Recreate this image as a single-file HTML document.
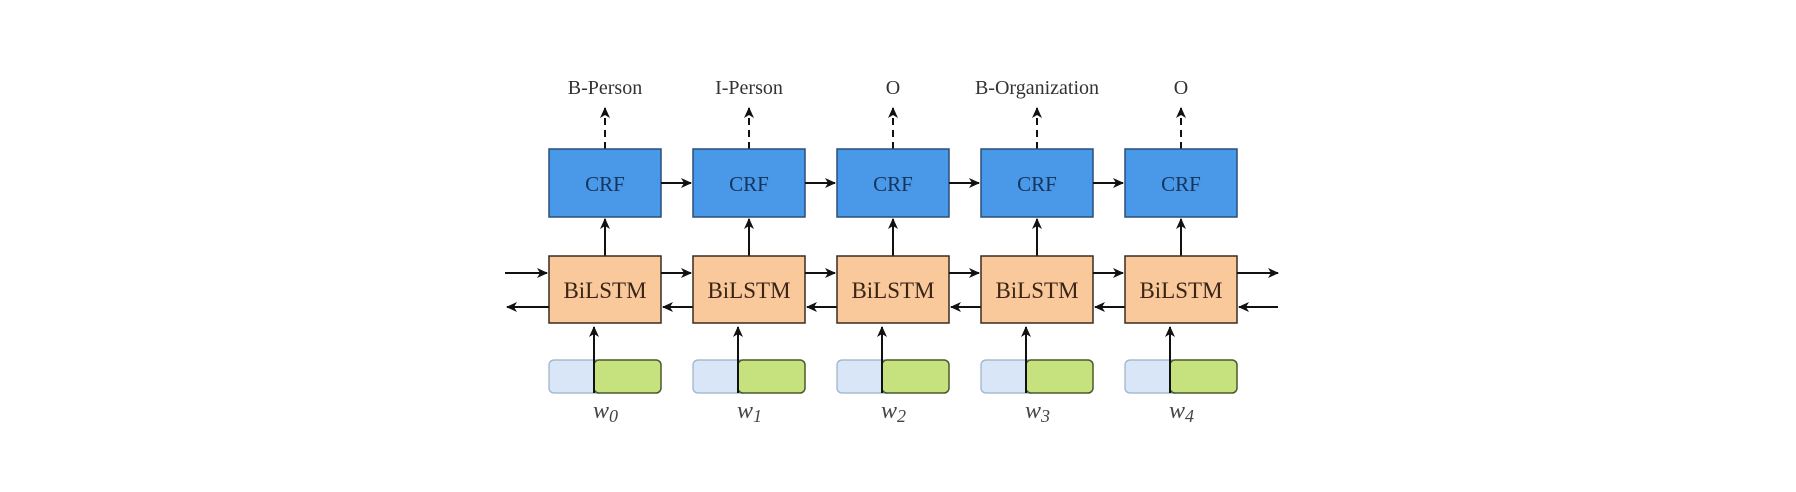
<!DOCTYPE html>
<html><head><meta charset="utf-8"><style>
html,body{margin:0;padding:0;background:#fff}
svg{display:block}
text{font-family:"Liberation Serif",serif}
</style></head><body>
<svg id="d" width="1796" height="492" viewBox="0 0 1796 492">
<defs>
<marker id="ah" markerWidth="11" markerHeight="10" refX="10" refY="5" orient="auto" markerUnits="userSpaceOnUse"><path d="M0,0 L11,5 L0,10 L3,5 Z" fill="#111"/></marker>
</defs>
<g id="g"></g>
</svg>
<script>
const tags=["B-Person","I-Person","O","B-Organization","O"];
const words=["0","1","2","3","4"];
const NS="http://www.w3.org/2000/svg";
const g=document.getElementById('g');
function el(t,a,txt){const e=document.createElementNS(NS,t);for(const k in a)e.setAttribute(k,a[k]);if(txt!==undefined)e.textContent=txt;g.appendChild(e);return e;}
const x0=549,pitch=144,w=112;
function arrow(x1,y1,x2,y2,dash,name){
 const e=el('line',{x1:x1,y1:y1,x2:x2,y2:y2,stroke:'#111','stroke-width':2,'marker-end':'url(#ah)'});
 if(dash)e.setAttribute('stroke-dasharray','7,5');
 
 
}
tags.forEach((t,i)=>{
 const x=x0+i*pitch,cx=x+w/2;
 let e=el('text',{x:cx,y:94,'text-anchor':'middle','font-size':20,fill:'#333'},t);
 
 
 arrow(cx,149,cx,108,true,'output-arrow-'+i);
 e=el('rect',{x:x,y:149,width:w,height:68,fill:'#4a98e8',stroke:'#2a4f7a','stroke-width':1.5});
 
 
 e=el('text',{x:cx,y:191,'text-anchor':'middle','font-size':21,fill:'#17345c'},'CRF');
 
 
 if(i<tags.length-1)arrow(x+w,183,x+pitch-2,183,false,'crf-transition-arrow-'+i);
 arrow(cx,256,cx,219,false,'bilstm-to-crf-arrow-'+i);
 e=el('rect',{x:x,y:256,width:w,height:67,fill:'#f9c89b',stroke:'#3a2a1e','stroke-width':1.5});
 
 
 e=el('text',{x:cx,y:298,'text-anchor':'middle','font-size':23,fill:'#3a2416'},'BiLSTM');
 
 
 const lx=x+45;
 e=el('rect',{x:x,y:360,width:55,height:33,rx:5,fill:'#d8e6f7',stroke:'#9ab0c8','stroke-width':1.2});
 
 
 e=el('rect',{x:lx,y:360,width:w-45,height:33,rx:5,fill:'#c6e27e',stroke:'#4a5a2a','stroke-width':1.5});
 
 
 arrow(lx,393,lx,327,false,'input-arrow-'+i);
 e=el('text',{x:cx-4,y:418,'text-anchor':'middle','font-size':24,'font-style':'italic',fill:'#444'},'w');
 
 
 e=el('text',{x:cx+4,y:422,'font-size':18,'font-style':'italic',fill:'#444'},words[i]);
 
 
 if(i<tags.length-1){
  arrow(x+w,273,x+pitch-2,273,false,'forward-arrow-'+i);
  arrow(x+pitch,307,x+w+2,307,false,'backward-arrow-'+i);
 }
});
arrow(505,273,547,273,false,'forward-input-arrow');
arrow(549,307,507,307,false,'backward-output-arrow');
const xl=x0+4*pitch+w;
arrow(xl,273,xl+41,273,false,'forward-output-arrow');
arrow(xl+41,307,xl+2,307,false,'backward-input-arrow');
</script>
</body></html>
